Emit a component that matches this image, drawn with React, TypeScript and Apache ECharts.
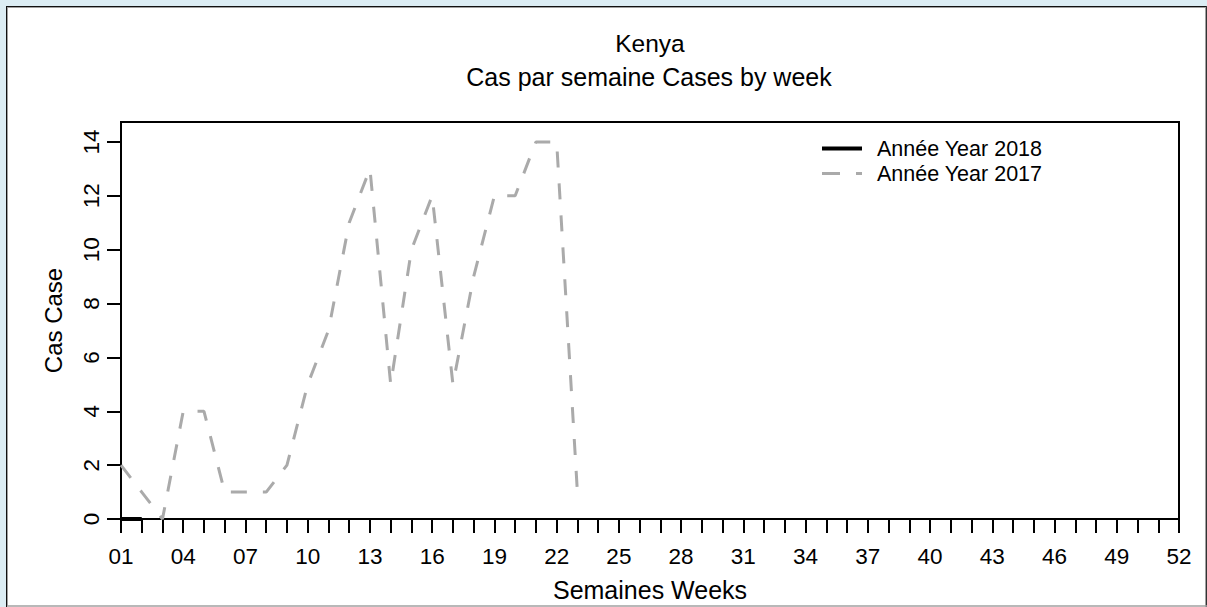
import React, { useEffect, useRef } from "react";
import * as echarts from "echarts";

const chartTitle = "Kenya";
const chartSubtitle = "Cas par semaine Cases by week";
const xAxisName = "Semaines Weeks";
const yAxisName = "Cas Case";

const weeks = [
  "01", "02", "03", "04", "05", "06", "07", "08", "09", "10",
  "11", "12", "13", "14", "15", "16", "17", "18", "19", "20",
  "21", "22", "23", "24", "25", "26", "27", "28", "29", "30",
  "31", "32", "33", "34", "35", "36", "37", "38", "39", "40",
  "41", "42", "43", "44", "45", "46", "47", "48", "49", "50",
  "51", "52",
];

const seriesNames = ["Année Year 2018", "Année Year 2017"];
const cases2018 = [0, 0];
const cases2017 = [2, 1, 0, 4, 4, 1, 1, 1, 2, 5, 7, 11, 13, 5, 10, 12, 5, 9, 12, 12, 14, 14, 1];
const yTicks = [0, 2, 4, 6, 8, 10, 12, 14];

const FONT = "'Liberation Sans', Arial, sans-serif";
const GRAY = "#aaaaaa";

export default function App() {
  const ref = useRef<HTMLDivElement>(null);
  useEffect(() => {
    if (!ref.current) return;
    const chart = echarts.init(ref.current, null, { renderer: "svg" });
    chart.setOption({
      animation: false,
      backgroundColor: "#dcedf4",
      textStyle: { fontFamily: FONT, color: "#000" },
      graphic: [
        { type: "rect", z: -5, shape: { x: 6, y: 6, width: 1201, height: 601 }, style: { fill: "#ffffff" } },
        { type: "line", z: -4, shape: { x1: 6, y1: 6.5, x2: 1207, y2: 6.5 }, style: { stroke: "#111", lineWidth: 1 } },
        { type: "line", z: -4, shape: { x1: 6.5, y1: 6, x2: 6.5, y2: 607 }, style: { stroke: "#111", lineWidth: 1 } },
        { type: "line", z: -4, shape: { x1: 7, y1: 7.5, x2: 1206, y2: 7.5 }, style: { stroke: "#a0a0a0", lineWidth: 1 } },
        { type: "line", z: -4, shape: { x1: 7.5, y1: 7, x2: 7.5, y2: 606 }, style: { stroke: "#a0a0a0", lineWidth: 1 } },
        { type: "line", z: -4, shape: { x1: 1205.5, y1: 7, x2: 1205.5, y2: 607 }, style: { stroke: "#a0a0a0", lineWidth: 1 } },
        { type: "line", z: -4, shape: { x1: 1206.5, y1: 6, x2: 1206.5, y2: 607 }, style: { stroke: "#333", lineWidth: 1 } },
        { type: "line", z: -4, shape: { x1: 7, y1: 606, x2: 1207, y2: 606 }, style: { stroke: "#a0a0a0", lineWidth: 1.5 } },
        {
          type: "text", x: 650, y: 43,
          style: { text: chartTitle, fontFamily: FONT, fontSize: 24.5, fill: "#000", textAlign: "center", textVerticalAlign: "middle" },
        },
        {
          type: "text", x: 649, y: 77,
          style: { text: chartSubtitle, fontFamily: FONT, fontSize: 25, fill: "#000", textAlign: "center", textVerticalAlign: "middle" },
        },
        // legend
        { type: "line", shape: { x1: 822, y1: 148.5, x2: 862, y2: 148.5 }, style: { stroke: "#000", lineWidth: 4 } },
        {
          type: "text", x: 877, y: 148.5,
          style: { text: seriesNames[0], fontFamily: FONT, fontSize: 21.5, fill: "#000", textAlign: "left", textVerticalAlign: "middle" },
        },
        { type: "line", shape: { x1: 822, y1: 173.5, x2: 862, y2: 173.5 }, style: { stroke: GRAY, lineWidth: 3, lineDash: [18, 16] } },
        {
          type: "text", x: 877, y: 173.5,
          style: { text: seriesNames[1], fontFamily: FONT, fontSize: 21.5, fill: "#000", textAlign: "left", textVerticalAlign: "middle" },
        },
      ],
      grid: {
        left: 121, right: 28, top: 122, bottom: 86,
        show: true, borderColor: "#000", borderWidth: 2, backgroundColor: "transparent",
        containLabel: false,
      },
      xAxis: {
        type: "category",
        data: weeks,
        boundaryGap: false,
        name: xAxisName,
        nameLocation: "middle",
        nameGap: 58,
        nameTextStyle: { fontFamily: FONT, fontSize: 25, color: "#000" },
        axisLine: { show: true, lineStyle: { color: "#000", width: 2 } },
        axisTick: { show: true, interval: 0, length: 14, lineStyle: { color: "#000", width: 2 } },
        axisLabel: { interval: 2, margin: 26, fontFamily: FONT, fontSize: 22.5, color: "#000" },
        splitLine: { show: false },
      },
      yAxis: {
        type: "value",
        min: 0,
        max: 14.74,
        name: yAxisName,
        nameLocation: "middle",
        nameRotate: 90,
        nameGap: 56,
        nameTextStyle: { fontFamily: FONT, fontSize: 24, color: "#000" },
        axisLine: { show: true, lineStyle: { color: "#000", width: 2 } },
        axisTick: { show: true, length: 14, customValues: yTicks, lineStyle: { color: "#000", width: 2 } },
        axisLabel: { rotate: 90, margin: 18, customValues: yTicks, fontFamily: FONT, fontSize: 22.5, color: "#000" },
        splitLine: { show: false },
      },
      series: [
        {
          name: seriesNames[1],
          type: "line",
          data: cases2017,
          symbol: "none",
          z: 2,
          lineStyle: { color: GRAY, width: 3, type: [16, 16], cap: "butt" },
          itemStyle: { color: GRAY },
        },
        {
          name: seriesNames[0],
          type: "line",
          data: cases2018,
          symbol: "none",
          z: 3,
          lineStyle: { color: "#000", width: 4 },
          itemStyle: { color: "#000" },
        },
      ],
    });
    return () => chart.dispose();
  }, []);
  return <div ref={ref} style={{ position: "fixed", left: 0, top: 0, width: 1207, height: 607 }} />;
}
